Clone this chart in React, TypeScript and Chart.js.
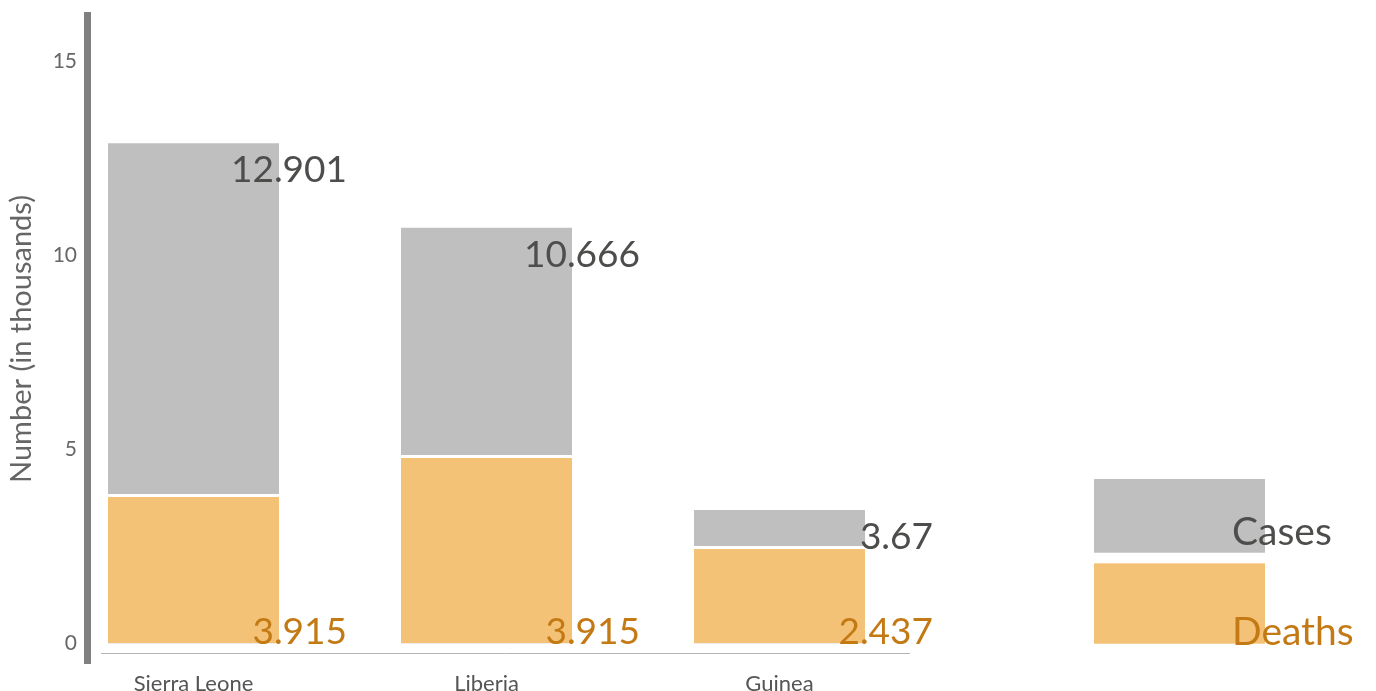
import React, { useEffect, useRef } from "react";
import { Chart, registerables } from "chart.js";

Chart.register(...registerables);

// ---- data ----
const countries = ["Sierra Leone", "Liberia", "Guinea"];
const casesValues = [12.88, 10.7, 3.43];
const deathsValues = [3.845, 4.85, 2.506];
const casesLabels = ["12.901", "10.666", "3.67"];
const deathsLabels = ["3.915", "3.915", "2.437"];
const yTicks = [0, 5, 10, 15];
const legendLabels = ["Cases", "Deaths"];
const yTitle = "Number (in thousands)";

// ---- styles ----
const GRAY = "#bfbfbf";
const ORANGE = "#f4c277";
const DARK_TEXT = "#4d4d4b";
const ORANGE_TEXT = "#c47a14";
const AXIS_TEXT = "#666666";
const FONT = "Lato, 'Open Sans', sans-serif";

const overlayPlugin = {
  id: "overlay",
  afterDraw(chart: any) {
    const { ctx, chartArea, scales } = chart;
    const y = scales.y;
    const zero = y.getPixelForValue(0);
    ctx.save();
    // x axis line
    ctx.strokeStyle = "#b5b5b5";
    ctx.lineWidth = 1;
    ctx.beginPath();
    const ly = Math.round(chartArea.bottom - 10) + 0.5;
    ctx.moveTo(chartArea.left + 14, ly);
    ctx.lineTo(chartArea.right, ly);
    ctx.stroke();

    // value labels
    const deathsMeta = chart.getDatasetMeta(0);
    const casesMeta = chart.getDatasetMeta(1);
    ctx.font = `37px ${FONT}`;
    ctx.textAlign = "right";
    ctx.textBaseline = "alphabetic";
    casesMeta.data.forEach((bar: any, i: number) => {
      const right = bar.x + bar.width / 2;
      ctx.fillStyle = DARK_TEXT;
      ctx.fillText(casesLabels[i], right + 68, bar.y + 39);
    });
    deathsMeta.data.forEach((bar: any, i: number) => {
      const right = bar.x + bar.width / 2;
      ctx.fillStyle = ORANGE_TEXT;
      ctx.fillText(deathsLabels[i], right + 68, zero + 1);
    });

    // legend
    const bw = casesMeta.data[0] ? casesMeta.data[0].width : 171;
    const lx = chartArea.right + 184;
    ctx.fillStyle = GRAY;
    ctx.fillRect(lx, zero - 164.3, bw, 73.7);
    ctx.fillStyle = ORANGE;
    ctx.fillRect(lx, zero - 80, bw, 80.4);
    ctx.textAlign = "left";
    ctx.font = `39px ${FONT}`;
    ctx.fillStyle = DARK_TEXT;
    ctx.fillText(legendLabels[0], lx + bw - 33, zero - 98);
    ctx.fillStyle = ORANGE_TEXT;
    ctx.fillText(legendLabels[1], lx + bw - 33, zero + 2);
    ctx.restore();
  },
};

export default function App() {
  const ref = useRef<HTMLCanvasElement | null>(null);

  useEffect(() => {
    if (!ref.current) return;
    const chart = new Chart(ref.current, {
      type: "bar",
      data: {
        datasets: [
          {
            label: legendLabels[1],
            data: countries.map((_, i) => ({ x: i, y: deathsValues[i] })),
            backgroundColor: ORANGE,
            borderColor: "#ffffff",
            borderWidth: { top: 3, right: 0, bottom: 0, left: 0 },
            borderSkipped: false,
          },
          {
            label: legendLabels[0],
            data: countries.map((_, i) => ({ x: i, y: casesValues[i] })),
            backgroundColor: GRAY,
            borderWidth: 0,
          },
        ],
      },
      options: {
        animation: false,
        responsive: false,
        maintainAspectRatio: false,
        devicePixelRatio: 1,
        layout: { padding: { top: 15, right: 466, left: 0, bottom: 0 } },
        datasets: {
          bar: {
            grouped: false,
            categoryPercentage: 1,
            barPercentage: 0.5836,
          },
        },
        plugins: {
          legend: { display: false },
          tooltip: { enabled: false },
        },
        scales: {
          x: {
            type: "linear",
            offset: false,
            min: -0.36348,
            max: 2.44539,
            grid: { display: false, offset: false },
            border: { display: false },
            afterBuildTicks: (s: any) => {
              s.ticks = countries.map((_, i) => ({ value: i }));
            },
            afterFit: (s: any) => {
              s.height = 28;
              s.paddingLeft = 0;
              s.paddingRight = 0;
            },
            ticks: {
              autoSkip: false,
              maxRotation: 0,
              padding: 0,
              color: "#555555",
              font: { family: FONT, size: 22 },
              callback: (v: any) => countries[v] ?? "",
            },
          },
          y: {
            type: "linear",
            min: -0.507,
            max: 16.18,
            grid: { display: false },
            border: { display: true, color: "#808080", width: 7 },
            afterBuildTicks: (s: any) => {
              s.ticks = yTicks.map((v) => ({ value: v }));
            },
            afterFit: (s: any) => {
              s.width = 87;
              s.paddingTop = 0;
              s.paddingBottom = 0;
            },
            ticks: {
              padding: 2,
              color: AXIS_TEXT,
              font: { family: FONT, size: 21 },
            },
            title: {
              display: true,
              text: yTitle,
              color: AXIS_TEXT,
              font: { family: FONT, size: 29 },
              padding: { top: 4, bottom: 0 },
            },
          },
        },
      },
      plugins: [overlayPlugin],
    } as any);
    return () => chart.destroy();
  }, []);

  return (
    <div style={{ position: "fixed", left: 0, top: 0, width: 1376, height: 691, background: "#fff" }}>
      <canvas ref={ref} width={1376} height={691} style={{ display: "block" }} />
    </div>
  );
}
